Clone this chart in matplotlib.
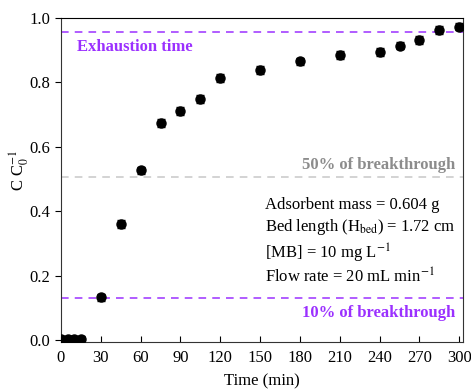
import numpy as np
import matplotlib
matplotlib.use('Agg')
import matplotlib.pyplot as plt

plt.rcParams['font.family'] = ['Liberation Serif', 'DejaVu Serif']
plt.rcParams['mathtext.fontset'] = 'stix'

# Breakthrough curve data
time_min = [0, 5, 10, 15, 30, 45, 60, 75, 90, 105, 120, 150, 180, 210, 240, 255, 270, 285, 300]
c_c0 = [0.005, 0.005, 0.005, 0.005, 0.133, 0.361, 0.527, 0.673, 0.711, 0.749, 0.813,
        0.838, 0.865, 0.884, 0.895, 0.914, 0.931, 0.962, 0.973]
c_err = [0.008, 0.008, 0.008, 0.008, 0.012, 0.012, 0.012, 0.012, 0.012, 0.012, 0.012,
         0.012, 0.012, 0.012, 0.012, 0.012, 0.012, 0.012, 0.012]

exhaustion_level = 0.957
half_level = 0.505
ten_level = 0.131

purple = '#9B30FF'
grey = '#8c8c8c'

fig = plt.figure(figsize=(4.71, 3.89), dpi=100)
ax = fig.add_axes([0.1295, 0.121, 0.854, 0.833])

ax.axhline(exhaustion_level, color=purple, ls=(0, (5, 4)), lw=1.1)
ax.axhline(half_level, color='#c8c8c8', ls=(0, (5, 4)), lw=1.1)
ax.axhline(ten_level, color=purple, ls=(0, (5, 4)), lw=1.1)

ax.errorbar(time_min, c_c0, yerr=c_err, fmt='o', color='black', ms=6.5,
            ecolor='black', elinewidth=1, capsize=3, zorder=3)

ax.set_xlim(0, 303)
ax.set_ylim(-0.005, 1.0)
ax.set_xticks(np.arange(0, 301, 30))
ax.set_yticks([0.0, 0.2, 0.4, 0.6, 0.8, 1.0])
ax.yaxis.set_major_formatter(matplotlib.ticker.FormatStrFormatter('%.1f'))
ax.tick_params(axis='x', direction='in', length=4, labelsize=12, pad=6)
ax.tick_params(axis='y', direction='out', length=4, labelsize=12)
for s in ax.spines.values():
    s.set_color('#333333')
ax.spines['top'].set_color('black')

ax.set_xlabel('Time (min)', fontsize=12, labelpad=5)
ax.set_ylabel('C C$_0^{-1}$', fontsize=12)
ax.yaxis.set_label_coords(-0.075, 0.53)

ax.text(12, 0.91, 'Exhaustion time', color=purple, fontsize=12,
        fontweight='bold', va='center')
ax.text(297, 0.543, '50% of breakthrough', color=grey, fontsize=12,
        fontweight='bold', ha='right', va='center')
ax.text(297, 0.085, '10% of breakthrough', color=purple, fontsize=12,
        fontweight='bold', ha='right', va='center')

info = ['Adsorbent mass = 0.604 g',
        'Bed length (H$_{\\mathrm{bed}}$) = 1.72 cm',
        '[MB] = 10 mg L$^{-1}$',
        'Flow rate = 20 mL min$^{-1}$']
info_y = [0.419, 0.35, 0.27, 0.196]
for s, yy in zip(info, info_y):
    ax.text(154, yy, s, fontsize=12, va='center')

fig.savefig('out.png', dpi=100)
